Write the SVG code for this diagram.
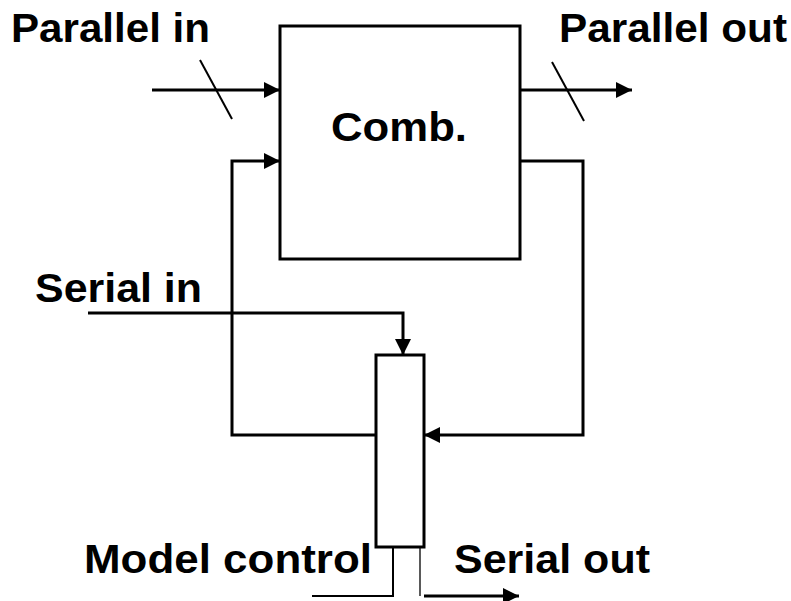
<svg xmlns="http://www.w3.org/2000/svg" width="791" height="601" viewBox="0 0 791 601">
<style>
text{font-family:"Liberation Sans",Arial,sans-serif;font-weight:bold;font-size:41px;fill:#000}
.w{fill:none;stroke:#000;stroke-width:3}
.t{fill:none;stroke:#000;stroke-width:2}
.h{fill:none;stroke:#000;stroke-width:1.3}
.box{fill:#fff;stroke:#000;stroke-width:3}
</style>
<defs>
<marker id="arr" markerUnits="userSpaceOnUse" markerWidth="17" markerHeight="16" refX="16" refY="8" orient="auto">
<path d="M0,0 L16,8 L0,16 Z" fill="#000"/>
</marker>
</defs>
<rect width="791" height="601" fill="#fff"/>
<g id="comb">
<rect class="box" x="280" y="26" width="240" height="233"/>
<text x="331" y="141" textLength="136" lengthAdjust="spacingAndGlyphs">Comb.</text>
</g>
<g id="register">
<rect class="box" x="376" y="355" width="48" height="192"/>
</g>
<g id="labels">
<text x="11" y="42" textLength="199" lengthAdjust="spacingAndGlyphs">Parallel in</text>
<text x="559" y="42" textLength="228" lengthAdjust="spacingAndGlyphs">Parallel out</text>
<text x="35" y="302" textLength="167" lengthAdjust="spacingAndGlyphs">Serial in</text>
<text x="84" y="573" textLength="288" lengthAdjust="spacingAndGlyphs">Model control</text>
<text x="454" y="573" textLength="196" lengthAdjust="spacingAndGlyphs">Serial out</text>
</g>
<g id="connectors">
<line class="w" x1="152" y1="90" x2="280" y2="90" marker-end="url(#arr)"/>
<line class="t" x1="200" y1="60" x2="232" y2="119"/>
<line class="w" x1="520" y1="90" x2="632" y2="90" marker-end="url(#arr)"/>
<line class="t" x1="552" y1="62" x2="584" y2="121"/>
<polyline class="w" points="376,435 232,435 232,161 280,161" marker-end="url(#arr)"/>
<polyline class="w" points="520,161 583,161 583,435 424,435" marker-end="url(#arr)"/>
<polyline class="w" points="88,313 403,313 403,355" marker-end="url(#arr)"/>
<polyline class="t" points="312,596 393,596 393,547"/>
<line class="h" x1="420" y1="547" x2="420" y2="596"/>
<line class="w" x1="424" y1="596" x2="519" y2="596" marker-end="url(#arr)"/>
</g>
</svg>
